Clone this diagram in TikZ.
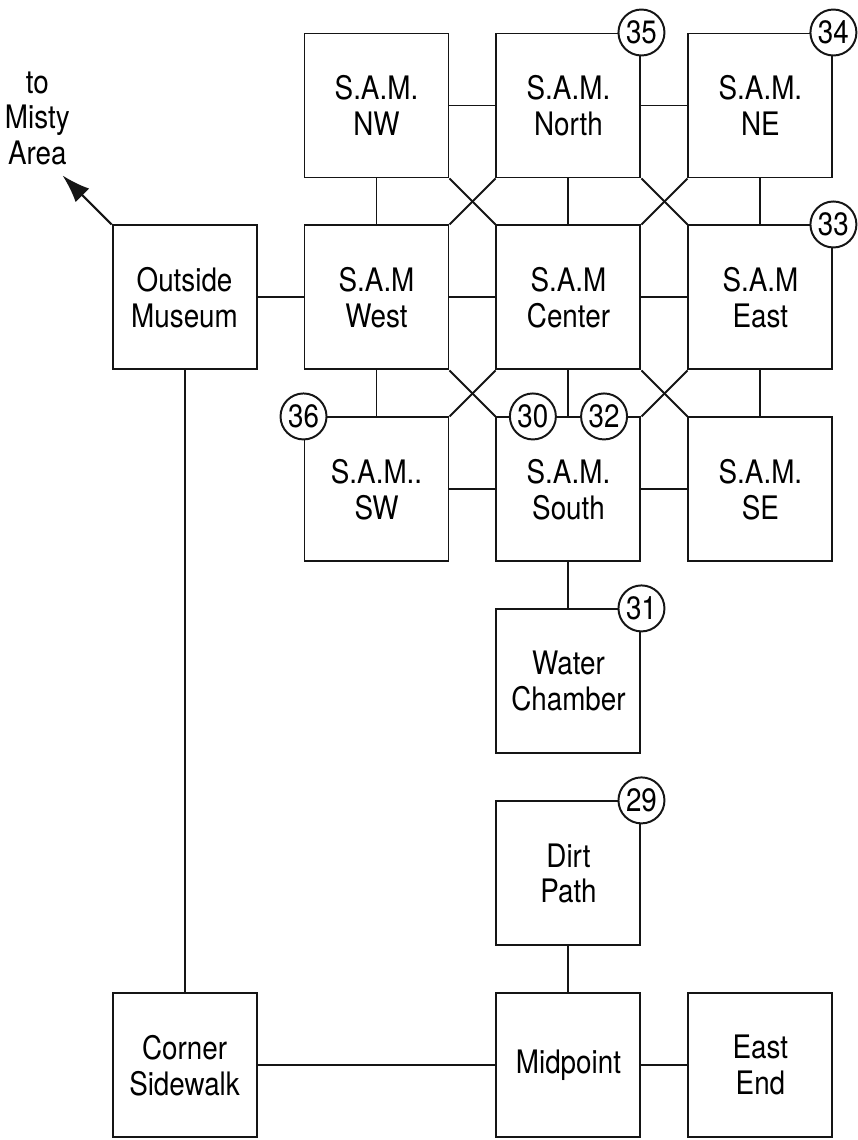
\documentclass[tikz,border=0pt]{standalone}
\usepackage{fontspec}
\setmainfont{TeX Gyre Heros}[FakeStretch=0.86]
\definecolor{Ink}{HTML}{151515}
\usetikzlibrary{arrows.meta,positioning}

\begin{document}
\begin{tikzpicture}[
    node distance=1.15cm,
    room/.style={
      draw=Ink, line width=1.4pt,
      minimum width=3.6cm, minimum height=3.6cm,
      align=center, font=\fontsize{23}{25.5}\selectfont, inner sep=2pt
    },
    tag/.style={
      circle, draw=Ink, fill=white, line width=1.4pt,
      minimum size=1.15cm, inner sep=0pt, font=\fontsize{23}{23}\selectfont
    },
    link/.style={Ink, line width=1.4pt},
    arr/.style={-{Latex[length=0.7cm,width=0.48cm]}, Ink, line width=1.5pt}
  ]
    \useasboundingbox (0,0) rectangle (21.425,-28.5);
    % top row
    \node[room] (nw) at (9.4125,-2.6375) {S.A.M.\\NW};
    \node[room, right=of nw] (north) {S.A.M.\\North};
    \node[room, right=of north] (ne) {S.A.M.\\NE};
    % middle row
    \node[room, below=of nw] (west) {S.A.M\\West};
    \node[room, below=of north] (center) {S.A.M\\Center};
    \node[room, below=of ne] (east) {S.A.M\\East};
    \node[room, left=of west] (outside) {Outside\\Museum};
    % bottom row
    \node[room, below=of west] (sw) {S.A.M..\\SW};
    \node[room, below=of center] (south) {S.A.M.\\South};
    \node[room, below=of east] (se) {S.A.M.\\SE};
    % path down to the street
    \node[room, below=of south] (water) {Water\\Chamber};
    \node[room, below=of water] (dirt) {Dirt\\Path};
    \node[room, below=of dirt] (midpoint) {Midpoint};
    \node[room, right=of midpoint] (eastend) {East\\End};
    \node[room] (corner) at (outside |- midpoint) {Corner\\Sidewalk};

    % straight links
    \draw[link] (nw) -- (north);
    \draw[link] (north) -- (ne);
    \draw[link] (outside) -- (west);
    \draw[link] (west) -- (center);
    \draw[link] (center) -- (east);
    \draw[link] (sw) -- (south);
    \draw[link] (south) -- (se);
    \draw[link] (nw) -- (west);
    \draw[link] (north) -- (center);
    \draw[link] (ne) -- (east);
    \draw[link] (west) -- (sw);
    \draw[link] (center) -- (south);
    \draw[link] (east) -- (se);
    \draw[link] (south) -- (water);
    \draw[link] (dirt) -- (midpoint);
    \draw[link] (outside) -- (corner);
    \draw[link] (corner) -- (midpoint);
    \draw[link] (midpoint) -- (eastend);

    % diagonal links
    \draw[link] (nw.south east) -- (center.north west);
    \draw[link] (north.south west) -- (west.north east);
    \draw[link] (north.south east) -- (east.north west);
    \draw[link] (ne.south west) -- (center.north east);
    \draw[link] (west.south east) -- (south.north west);
    \draw[link] (center.south west) -- (sw.north east);
    \draw[link] (center.south east) -- (se.north west);
    \draw[link] (east.south west) -- (south.north east);

    % exit
    \coordinate (misty) at ([shift={(-1.225cm,1.225cm)}]outside.north west);
    \draw[arr] (outside.north west) -- (misty);
    \node[align=center, font=\fontsize{23}{25.5}\selectfont, anchor=south, inner sep=0pt]
      (mistylabel) at ([shift={(-0.63cm,0.25cm)}]misty) {to\\Misty\\Area};

    % numbered markers
    \node[tag] (t35) at (north.north east) {35};
    \node[tag] (t34) at (ne.north east) {34};
    \node[tag] (t33) at (east.north east) {33};
    \node[tag] (t36) at (sw.north west) {36};
    \node[tag] (t30) at ([xshift=-0.89cm]south.north) {30};
    \node[tag] (t32) at ([xshift=0.89cm]south.north) {32};
    \node[tag] (t31) at (water.north east) {31};
    \node[tag] (t29) at (dirt.north east) {29};
  \end{tikzpicture}
\end{document}
